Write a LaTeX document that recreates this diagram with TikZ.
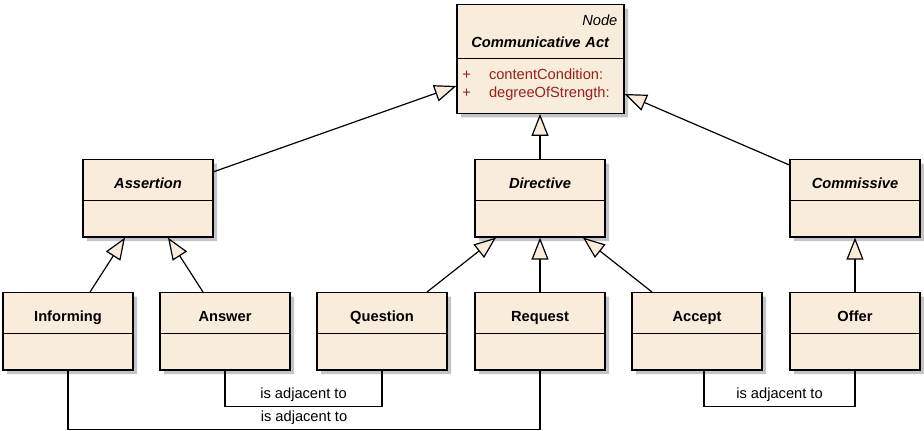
\documentclass[tikz,border=0pt]{standalone}
\usepackage{fontspec}
\setmainfont{Liberation Sans}
\usetikzlibrary{shapes.multipart,arrows.meta,shadows}

\definecolor{classfill}{RGB}{248,236,218}
\definecolor{attrred}{RGB}{156,30,30}
\definecolor{shadowgray}{RGB}{196,196,200}

\newcommand{\headstrut}{\noindent\rule[-8.5pt]{0pt}{30pt}}
\newcommand{\bodystrut}{\noindent\rule{0pt}{26.25pt}}
\newcommand{\attr}[1]{\hspace*{4pt}\makebox[20pt][l]{+}#1\hfill\null}

\tikzset{
  umlclass/.style={rectangle split, rectangle split parts=2, draw, line width=0.9pt,
    fill=classfill, text width=97.5pt, align=center, inner xsep=0pt, inner ysep=0pt,
    anchor=north, drop shadow={shadow xshift=3pt, shadow yshift=-3pt, fill=shadowgray, opacity=1}},
  topclass/.style={umlclass, text width=125.25pt},
  gen/.style={line width=0.9pt, -{Triangle[length=16.5pt, width=12.75pt, fill=classfill, line width=0.9pt]}},
  assoc/.style={line width=0.9pt},
}

\begin{document}
\begin{tikzpicture}[x=0.75pt, y=-0.75pt, font=\fontsize{11}{13}\selectfont]
\useasboundingbox (0,0) rectangle (924,430);
\node[topclass] (comm) at (540.5,4) {\noindent\rule{0pt}{15pt}\hfill{\itshape Node}\hspace*{5pt}\null\\[3.5pt]\textbf{\itshape Communicative Act}\rule[-8.25pt]{0pt}{0pt}
  \nodepart{two}\noindent\color{attrred}\rule{0pt}{15pt}\attr{contentCondition:}\\[0.5pt]\attr{degreeOfStrength:}\rule[-11.5pt]{0pt}{0pt}};
\node[umlclass] (assertion) at (148,159) {\headstrut\textbf{\itshape Assertion}\nodepart{two}\bodystrut};
\node[umlclass] (directive) at (540,159) {\headstrut\textbf{\itshape Directive}\nodepart{two}\bodystrut};
\node[umlclass] (commissive) at (855,159) {\headstrut\textbf{\itshape Commissive}\nodepart{two}\bodystrut};
\node[umlclass] (informing) at (68,292) {\headstrut\textbf{Informing}\nodepart{two}\bodystrut};
\node[umlclass] (answer) at (225,292) {\headstrut\textbf{Answer}\nodepart{two}\bodystrut};
\node[umlclass] (question) at (382,292) {\headstrut\textbf{Question}\nodepart{two}\bodystrut};
\node[umlclass] (request) at (540,292) {\headstrut\textbf{Request}\nodepart{two}\bodystrut};
\node[umlclass] (accept) at (697,292) {\headstrut\textbf{Accept}\nodepart{two}\bodystrut};
\node[umlclass] (offer) at (855,292) {\headstrut\textbf{Offer}\nodepart{two}\bodystrut};
% generalizations
\draw[gen] ([yshift=19.9pt]assertion.east) -- ([yshift=-20.25pt]comm.west);
\draw[gen] (directive.north) -- (comm.south -| directive.north);
\draw[gen] ([yshift=-4.5pt]commissive.north west) -- ([yshift=-26.25pt]comm.east);
\draw[gen] ([xshift=16.5pt]informing.north) -- ([xshift=-17.25pt]assertion.south);
\draw[gen] ([xshift=-16.5pt]answer.north) -- ([xshift=15pt]assertion.south);
\draw[gen] ([xshift=33.75pt]question.north) -- ([xshift=-33pt]directive.south);
\draw[gen] (request.north) -- (directive.south);
\draw[gen] ([xshift=-33.75pt]accept.north) -- ([xshift=32.25pt]directive.south);
\draw[gen] (offer.north) -- (commissive.south);
% associations
\draw[assoc] (answer.south) -- ++(0,36) -| node[pos=0.25, above=0pt] {is adjacent to} (question.south);
\draw[assoc] (informing.south) -- ++(0,59) -| node[pos=0.25, above=0pt] {is adjacent to} (request.south);
\draw[assoc] ([xshift=5.25pt]accept.south) -- ++(0,36) -| node[pos=0.25, above=0pt] {is adjacent to} (offer.south);
\end{tikzpicture}
\end{document}
